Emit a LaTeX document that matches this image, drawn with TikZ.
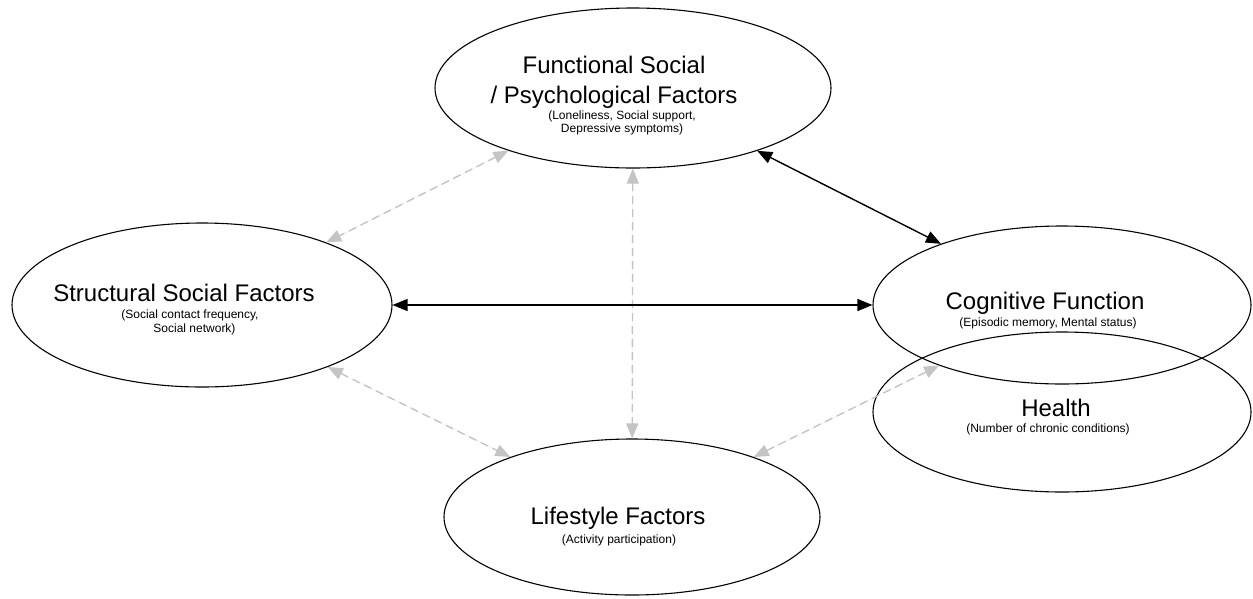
\documentclass[tikz,border=0pt]{standalone}
\usepackage{fontspec}
\setmainfont{Liberation Sans}
\usetikzlibrary{shapes.geometric,arrows.meta}
\definecolor{lightarrow}{RGB}{196,196,196}
\begin{document}
\begin{tikzpicture}[x=1pt,y=-1pt,
  oval/.style={ellipse,draw=black,line width=1.1pt,inner sep=0pt},
  title/.style={anchor=base,font=\fontsize{24}{29}\selectfont,inner sep=0pt},
  sub/.style={anchor=base,font=\fontsize{12}{14}\selectfont,inner sep=0pt},
  strong/.style={line width=1.4pt,{Triangle[length=15pt,width=12pt]}-{Triangle[length=15pt,width=12pt]}},
  weak/.style={draw=lightarrow,fill=lightarrow,line width=1.4pt,dash pattern=on 8pt off 5pt,{Triangle[length=15pt,width=12pt]}-{Triangle[length=15pt,width=12pt]}}]
\useasboundingbox (0,0) rectangle (1253,598);
\fill[white] (0,0) rectangle (1253,598);

% ellipses
\node[oval,minimum width=396pt,minimum height=160pt] (F) at (633,88) {};
\node[oval,minimum width=380pt,minimum height=164pt] (S) at (202,305) {};
\node[oval,minimum width=378pt,minimum height=158pt] (C) at (1062,305) {};
\node[oval,minimum width=378pt,minimum height=160pt] (H) at (1062,412) {};
\node[oval,minimum width=376pt,minimum height=156pt] (L) at (632,517) {};

% texts
\node[title] (f1) at (614,73.5) {Functional Social};
\node[title] (f2) at (614,103.5) {/ Psychological Factors};
\node[sub] (f3) at (622,119.5) {(Loneliness, Social support,};
\node[sub] (f4) at (622,132.5) {Depressive symptoms)};

\node[title] (s1) at (184,301.5) {Structural Social Factors};
\node[sub] (s2) at (190,318.5) {(Social contact frequency,};
\node[sub] (s3) at (194.5,332.5) {Social network)};

\node[title] (c1) at (1045,309.5) {Cognitive Function};
\node[sub] (c2) at (1048,326.5) {(Episodic memory, Mental status)};

\node[title] (h1) at (1056,416.5) {Health};
\node[sub] (h2) at (1048,432.5) {(Number of chronic conditions)};

\node[title] (l1) at (618,524.5) {Lifestyle Factors};
\node[sub] (l2) at (619,543.5) {(Activity participation)};

% connectors
\draw[weak] (F) -- (S);
\draw[weak] (F) -- (L);
\draw[weak] (S) -- (L);
\draw[weak] (L) -- (C);
\draw[strong] (S) -- (C);
\draw[strong] (F) -- (C);
\end{tikzpicture}
\end{document}
